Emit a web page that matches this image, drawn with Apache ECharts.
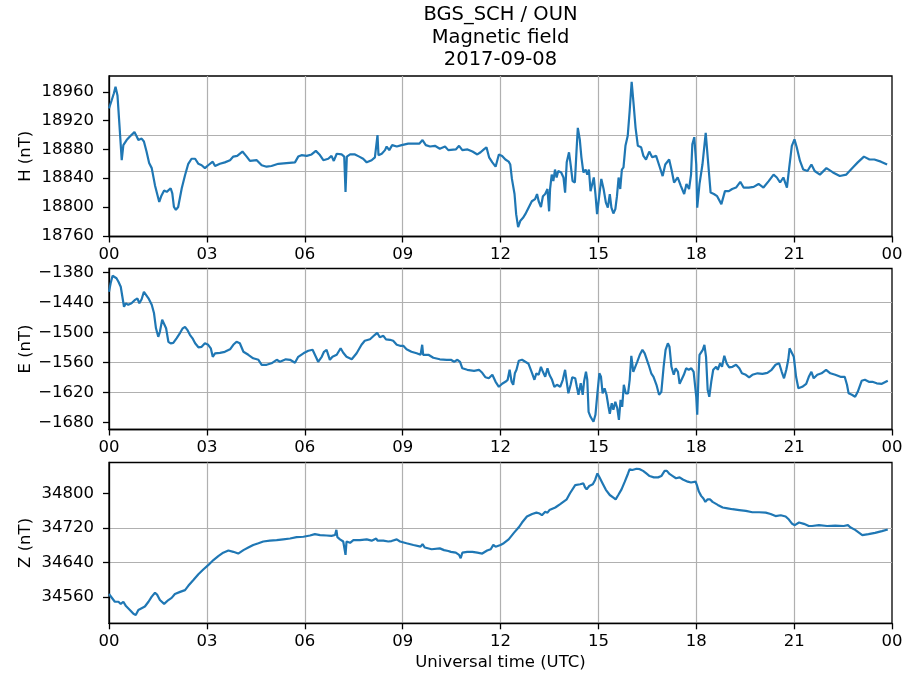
<!DOCTYPE html>
<html>
<head>
<meta charset="utf-8">
<script src="https://cdn.jsdelivr.net/npm/echarts@6/dist/echarts.min.js"></script>
<style>
html,body{margin:0;padding:0;background:#fff;}
#chart{width:913px;height:674px;}
</style>
</head>
<body>
<div id="chart"></div>
<script>
// ---- data (hours UTC, nT) ----
const hourTicks = [0, 3, 6, 9, 12, 15, 18, 21, 24];
const hTicks = [18760, 18800, 18840, 18880, 18920, 18960];
const hGrid = [18800, 18850, 18900, 18950];
const eTicks = [-1680, -1620, -1560, -1500, -1440, -1380];
const zTicks = [34560, 34640, 34720, 34800];

const hField = [
[0.00,18937],[0.08,18948],[0.15,18958],[0.20,18967],[0.26,18955],[0.32,18914],[0.39,18865],[0.44,18886],[0.54,18893],[0.64,18898],[0.78,18904],[0.85,18898],[0.90,18893],[1.00,18895],[1.07,18891],[1.15,18877],[1.23,18861],[1.31,18854],[1.41,18830],[1.54,18807],[1.61,18816],[1.69,18823],[1.77,18821],[1.89,18826],[1.94,18819],[1.99,18800],[2.05,18796],[2.12,18800],[2.23,18826],[2.33,18844],[2.43,18860],[2.53,18867],[2.64,18867],[2.74,18860],[2.84,18858],[2.94,18854],[3.04,18858],[3.18,18863],[3.25,18857],[3.40,18860],[3.55,18862],[3.71,18865],[3.81,18870],[3.93,18871],[4.09,18877],[4.22,18870],[4.32,18864],[4.53,18865],[4.68,18858],[4.83,18856],[4.98,18857],[5.19,18860],[5.44,18861],[5.70,18862],[5.80,18870],[5.90,18872],[6.06,18871],[6.21,18873],[6.34,18878],[6.45,18873],[6.57,18865],[6.72,18867],[6.82,18871],[6.89,18864],[6.98,18874],[7.13,18873],[7.21,18870],[7.25,18821],[7.29,18870],[7.39,18873],[7.54,18873],[7.67,18870],[7.79,18867],[7.90,18862],[8.05,18865],[8.15,18869],[8.21,18870],[8.23,18900],[8.26,18872],[8.36,18874],[8.46,18879],[8.51,18884],[8.59,18879],[8.68,18886],[8.82,18884],[8.97,18886],[9.17,18888],[9.38,18888],[9.51,18888],[9.61,18893],[9.71,18886],[9.84,18884],[9.99,18885],[10.14,18881],[10.30,18884],[10.40,18879],
[10.63,18880],[10.73,18885],[10.83,18879],[10.99,18880],[11.14,18877],[11.29,18873],[11.39,18876],[11.49,18880],[11.57,18883],[11.65,18869],[11.75,18862],[11.85,18856],[11.95,18873],[12.05,18871],[12.15,18866],[12.25,18863],[12.30,18859],[12.35,18839],[12.43,18818],[12.48,18790],[12.54,18772],[12.61,18781],[12.69,18785],[12.76,18790],[12.86,18799],[12.96,18808],[13.06,18811],[13.12,18818],[13.17,18808],[13.24,18800],[13.30,18815],[13.37,18818],[13.44,18825],[13.49,18794],[13.52,18825],[13.57,18845],[13.62,18836],[13.67,18852],[13.72,18841],[13.77,18850],[13.86,18848],[13.93,18841],[13.98,18820],[14.03,18862],[14.10,18876],[14.15,18859],[14.21,18836],[14.28,18834],[14.33,18878],[14.37,18910],[14.43,18894],[14.48,18869],[14.54,18848],[14.61,18852],[14.66,18845],[14.71,18852],[14.76,18822],[14.81,18820],[14.86,18841],[14.91,18818],[14.96,18790],[15.02,18813],[15.09,18839],[15.16,18825],[15.23,18806],[15.29,18799],[15.35,18818],[15.40,18799],[15.46,18791],[15.52,18797],[15.57,18815],[15.62,18841],[15.67,18825],[15.72,18852],[15.77,18855],[15.83,18885],[15.90,18899],[15.96,18934],[16.02,18974],[16.08,18943],[16.14,18910],[16.21,18885],[16.31,18883],[16.38,18871],[16.46,18866],[16.56,18877],[16.65,18869],[16.77,18871],[16.87,18857],[16.97,18843],[17.05,18859],[17.17,18866],[17.25,18850],[17.32,18834],[17.43,18841],[17.53,18829],[17.63,18818],[17.70,18832],[17.78,18825],[17.84,18845],[17.88,18887],[17.94,18897],[18.00,18859],[18.03,18799],[18.10,18832],[18.19,18859],[18.29,18903],[18.36,18864],[18.44,18820],[18.54,18818],[18.64,18815],[18.77,18804],[18.88,18822],[19.00,18822],[19.10,18825],[19.22,18827],[19.35,18835],[19.45,18827],[19.61,18827],[19.76,18828],[19.91,18832],[20.06,18827],[20.22,18836],[20.37,18845],[20.47,18841],[20.57,18834],[20.67,18841],[20.78,18827],[20.85,18855],[20.93,18885],[21.01,18894],[21.08,18883],[21.18,18864],[21.28,18852],[21.41,18850],[21.53,18859],[21.63,18850],[21.79,18845],[21.99,18854],[22.19,18848],[22.40,18843],[22.60,18845],[22.80,18855],[22.95,18862],[23.14,18870],[23.31,18866],[23.46,18866],[23.66,18863],[23.85,18859]
];

const eField = [
[0.00,-1419],[0.05,-1402],[0.11,-1387],[0.16,-1385],[0.23,-1392],[0.29,-1399],[0.36,-1409],[0.42,-1412],[0.46,-1449],[0.52,-1442],[0.59,-1445],[0.69,-1442],[0.80,-1435],[0.87,-1432],[0.93,-1442],[1.00,-1434],[1.07,-1419],[1.12,-1417],[1.21,-1432],[1.31,-1445],[1.38,-1462],[1.44,-1492],[1.51,-1509],[1.56,-1499],[1.63,-1475],[1.69,-1472],[1.75,-1492],[1.82,-1519],[1.89,-1522],[1.97,-1521],[2.07,-1512],[2.18,-1501],[2.26,-1492],[2.33,-1489],[2.40,-1495],[2.48,-1505],[2.56,-1512],[2.64,-1522],[2.74,-1530],[2.84,-1529],[2.94,-1522],[3.04,-1525],[3.12,-1532],[3.18,-1549],[3.25,-1542],[3.40,-1541],[3.55,-1539],[3.71,-1534],[3.81,-1525],[3.91,-1519],[4.01,-1522],[4.12,-1539],[4.27,-1545],[4.42,-1552],[4.58,-1555],[4.68,-1565],[4.83,-1565],[4.98,-1562],[5.14,-1555],[5.24,-1559],[5.42,-1554],[5.55,-1555],[5.70,-1561],[5.80,-1549],[5.96,-1542],[6.11,-1537],[6.24,-1535],[6.34,-1549],[6.41,-1559],[6.52,-1549],[6.59,-1539],[6.67,-1535],[6.77,-1555],[6.85,-1549],[6.98,-1545],[7.10,-1532],[7.18,-1541],[7.28,-1549],[7.44,-1554],[7.59,-1542],[7.74,-1525],[7.84,-1517],[8.00,-1514],[8.15,-1505],[8.22,-1501],[8.30,-1510],[8.41,-1507],[8.49,-1514],[8.61,-1515],[8.71,-1517],[8.82,-1525],[8.92,-1527],[9.02,-1527],[9.12,-1534],[9.27,-1539],[9.43,-1542],[9.55,-1545],[9.60,-1525],[9.63,-1545],[9.79,-1545],[9.94,-1551],[10.14,-1554],[10.35,-1555],
[10.48,-1555],[10.58,-1559],[10.68,-1555],[10.76,-1559],[10.83,-1572],[10.98,-1575],[11.19,-1577],[11.34,-1575],[11.44,-1581],[11.54,-1590],[11.64,-1592],[11.75,-1585],[11.85,-1599],[11.95,-1609],[12.05,-1603],[12.15,-1599],[12.22,-1595],[12.28,-1575],[12.34,-1599],[12.39,-1605],[12.44,-1582],[12.49,-1575],[12.56,-1557],[12.66,-1555],[12.76,-1559],[12.86,-1563],[12.97,-1582],[13.04,-1595],[13.10,-1582],[13.17,-1585],[13.24,-1569],[13.30,-1579],[13.37,-1589],[13.44,-1572],[13.50,-1585],[13.58,-1595],[13.65,-1609],[13.73,-1605],[13.83,-1609],[13.91,-1595],[13.98,-1575],[14.03,-1599],[14.08,-1622],[14.15,-1605],[14.20,-1590],[14.29,-1592],[14.34,-1609],[14.39,-1625],[14.46,-1602],[14.52,-1625],[14.56,-1599],[14.62,-1579],[14.66,-1595],[14.70,-1659],[14.76,-1669],[14.85,-1679],[14.91,-1665],[14.97,-1622],[15.03,-1582],[15.08,-1589],[15.13,-1622],[15.19,-1612],[15.25,-1625],[15.31,-1649],[15.35,-1663],[15.41,-1642],[15.46,-1655],[15.52,-1639],[15.58,-1652],[15.63,-1675],[15.68,-1635],[15.73,-1649],[15.78,-1605],[15.84,-1622],[15.91,-1622],[15.96,-1595],[16.01,-1547],[16.07,-1579],[16.12,-1582],[16.19,-1559],[16.27,-1545],[16.35,-1535],[16.42,-1542],[16.47,-1539],[16.54,-1565],[16.62,-1582],[16.69,-1589],[16.78,-1605],[16.86,-1625],[16.93,-1619],[17.00,-1569],[17.06,-1535],[17.13,-1522],[17.18,-1529],[17.24,-1569],[17.31,-1585],[17.37,-1572],[17.44,-1579],[17.49,-1603],[17.55,-1605],[17.62,-1585],[17.69,-1572],[17.77,-1575],[17.85,-1572],[17.92,-1579],[17.97,-1575],[18.00,-1629],[18.03,-1665],[18.07,-1585],[18.10,-1545],[18.15,-1542],[18.20,-1535],[18.25,-1525],[18.30,-1549],[18.35,-1615],[18.40,-1629],[18.46,-1599],[18.52,-1575],[18.61,-1569],[18.66,-1575],[18.73,-1562],[18.79,-1569],[18.86,-1547],[18.93,-1562],[19.01,-1570],[19.11,-1569],[19.22,-1565],[19.32,-1572],[19.40,-1582],[19.52,-1585],[19.62,-1590],[19.72,-1585],[19.88,-1582],[20.03,-1583],[20.18,-1581],[20.31,-1575],[20.43,-1565],[20.54,-1562],[20.62,-1579],[20.69,-1592],[20.76,-1575],[20.82,-1555],[20.86,-1532],[20.92,-1529],[20.99,-1549],[21.06,-1589],[21.13,-1612],[21.25,-1609],[21.37,-1603],[21.45,-1589],[21.53,-1579],[21.60,-1592],[21.71,-1585],[21.84,-1582],[21.98,-1575],[22.11,-1582],[22.26,-1585],[22.42,-1589],[22.55,-1589],[22.62,-1605],[22.67,-1622],[22.77,-1625],[22.87,-1629],[22.95,-1619],[23.07,-1597],[23.17,-1595],[23.29,-1599],[23.40,-1599],[23.53,-1602],[23.69,-1603],[23.87,-1597]
];

const zField = [
[0.00,34567],[0.08,34559],[0.18,34549],[0.29,34549],[0.36,34544],[0.44,34549],[0.52,34539],[0.64,34530],[0.75,34521],[0.82,34518],[0.90,34530],[1.00,34534],[1.10,34538],[1.21,34549],[1.31,34561],[1.41,34570],[1.48,34565],[1.56,34553],[1.69,34544],[1.82,34553],[1.92,34558],[2.02,34567],[2.18,34572],[2.33,34576],[2.43,34586],[2.58,34599],[2.74,34613],[2.89,34624],[3.04,34634],[3.20,34646],[3.35,34655],[3.50,34663],[3.66,34668],[3.81,34665],[3.96,34661],[4.12,34669],[4.27,34675],[4.42,34681],[4.58,34685],[4.73,34689],[4.93,34691],[5.14,34692],[5.34,34694],[5.55,34696],[5.75,34699],[5.96,34700],[6.16,34703],[6.31,34706],[6.47,34704],[6.67,34703],[6.82,34702],[6.93,34704],[6.97,34716],[7.00,34699],[7.08,34694],[7.18,34689],[7.23,34691],[7.25,34658],[7.28,34689],[7.39,34686],[7.49,34692],[7.69,34692],[7.90,34694],[8.05,34691],[8.19,34696],[8.23,34691],[8.41,34691],[8.56,34689],[8.66,34690],[8.82,34694],[8.92,34689],[9.12,34685],[9.33,34681],[9.55,34677],[9.61,34683],[9.68,34675],[9.89,34671],[10.14,34673],[10.27,34669],[10.40,34667],
[10.48,34665],[10.63,34663],[10.73,34658],[10.78,34650],[10.83,34663],[10.98,34665],[11.14,34665],[11.29,34663],[11.44,34661],[11.59,34668],[11.70,34671],[11.78,34681],[11.85,34677],[12.00,34681],[12.10,34685],[12.25,34694],[12.41,34709],[12.56,34722],[12.66,34733],[12.81,34747],[12.97,34753],[13.10,34756],[13.20,34754],[13.27,34750],[13.37,34758],[13.44,34756],[13.50,34762],[13.68,34768],[13.83,34776],[14.03,34787],[14.13,34801],[14.29,34820],[14.44,34822],[14.54,34824],[14.59,34815],[14.64,34810],[14.72,34818],[14.83,34822],[14.90,34832],[14.97,34847],[15.03,34839],[15.13,34824],[15.23,34809],[15.35,34797],[15.46,34791],[15.53,34787],[15.61,34797],[15.71,34810],[15.81,34828],[15.91,34847],[15.96,34857],[16.04,34855],[16.17,34858],[16.27,34857],[16.37,34853],[16.47,34847],[16.57,34841],[16.70,34838],[16.83,34838],[16.93,34841],[17.03,34853],[17.10,34853],[17.18,34846],[17.28,34841],[17.38,34836],[17.49,34838],[17.59,34833],[17.74,34828],[17.84,34826],[17.98,34828],[18.02,34820],[18.08,34805],[18.15,34795],[18.22,34789],[18.28,34781],[18.35,34787],[18.42,34787],[18.50,34781],[18.66,34774],[18.81,34768],[18.96,34766],[19.11,34764],[19.32,34762],[19.52,34760],[19.72,34757],[19.93,34757],[20.13,34756],[20.28,34753],[20.43,34748],[20.59,34750],[20.74,34747],[20.84,34740],[20.94,34730],[21.02,34727],[21.15,34733],[21.30,34730],[21.45,34725],[21.55,34725],[21.76,34727],[22.01,34725],[22.26,34726],[22.52,34725],[22.65,34727],[22.72,34722],[22.87,34716],[23.09,34704],[23.28,34706],[23.48,34709],[23.69,34713],[23.87,34717]
];

// ---- chart ----
const FONT = 'DejaVu Sans';
const TXT = '#000';
const FS = 16.5;
const LEFT = 109, RIGHT = 21;
const panels = [
  {top: 76,    height: 160.5, min: 18759,   max: 18982,   ticks: hTicks, grid: hGrid,  name: 'H (nT)', data: hField},
  {top: 268.5, height: 161,   min: -1694.4, max: -1372.4, ticks: eTicks, grid: eTicks, name: 'E (nT)', data: eField},
  {top: 462.5, height: 160.8, min: 34499,   max: 34872.5, ticks: zTicks, grid: zTicks, name: 'Z (nT)', data: zField}
];

const pad2 = v => { const h = Math.round(v) % 24; return (h < 10 ? '0' : '') + h; };
const numFmt = v => { const r = Math.round(v); return r < 0 ? '\u2212' + String(-r) : String(r); };

const grids = [], xAxes = [], yAxes = [], series = [];
panels.forEach((p, i) => {
  grids.push({left: LEFT, right: RIGHT, top: p.top, height: p.height, show: true,
    borderColor: '#000', borderWidth: 1.3, backgroundColor: 'transparent', containLabel: false});
  xAxes.push({
    type: 'value', gridIndex: i, min: 0, max: 24, interval: 3,
    axisLine: {show: true, onZero: false, lineStyle: {color: '#000', width: 1.3}},
    axisTick: {show: true, inside: false, length: 6, lineStyle: {color: '#000', width: 1.3}, customValues: hourTicks},
    axisLabel: {show: true, margin: 10, color: TXT, fontFamily: FONT, fontSize: FS, formatter: pad2, customValues: hourTicks},
    splitLine: {show: true, showMinLine: false, showMaxLine: false, lineStyle: {color: '#b0b0b0', width: 1.2}},
    name: i === 2 ? 'Universal time (UTC)' : '',
    nameLocation: 'middle', nameGap: 31, nameMoveOverlap: false,
    nameTextStyle: {color: TXT, fontFamily: FONT, fontSize: FS}
  });
  const step = p.ticks[1] - p.ticks[0];
  yAxes.push({
    type: 'value', gridIndex: i, min: p.min, max: p.max, minInterval: step, maxInterval: step,
    axisLine: {show: true, onZero: false, lineStyle: {color: '#000', width: 1.3}},
    axisTick: {show: true, inside: false, length: 6, lineStyle: {color: '#000', width: 1.3}, customValues: p.ticks},
    axisLabel: {show: true, margin: 15, color: TXT, fontFamily: FONT, fontSize: FS, customValues: p.ticks, formatter: numFmt},
    splitLine: {show: false},
    name: p.name, nameLocation: 'middle', nameGap: 75, nameRotate: 90, nameMoveOverlap: false,
    nameTextStyle: {color: TXT, fontFamily: FONT, fontSize: FS}
  });
  const gstep = p.grid[1] - p.grid[0];
  yAxes.push({
    type: 'value', gridIndex: i, min: p.min, max: p.max, minInterval: gstep, maxInterval: gstep,
    axisLine: {show: false}, axisLabel: {show: false},
    axisTick: {show: false, customValues: p.grid},
    splitLine: {show: true, showMinLine: false, showMaxLine: false, lineStyle: {color: '#b0b0b0', width: 1.2}}
  });
  series.push({
    type: 'line', xAxisIndex: i, yAxisIndex: 2 * i, data: p.data,
    showSymbol: false, symbol: 'none', clip: true, z: 5,
    lineStyle: {color: '#1f77b4', width: 2.2}, itemStyle: {color: '#1f77b4'}
  });
});

const chart = echarts.init(document.getElementById('chart'), null, {renderer: 'canvas'});
chart.setOption({
  animation: false,
  backgroundColor: '#ffffff',
  title: {
    text: 'BGS_SCH / OUN\nMagnetic field\n2017-09-08',
    left: 500.5, top: 4, textAlign: 'center', padding: 0,
    textStyle: {color: TXT, fontFamily: FONT, fontSize: 19.5, fontWeight: 'normal', lineHeight: 22.5}
  },
  grid: grids, xAxis: xAxes, yAxis: yAxes, series: series
});
</script>
</body>
</html>
